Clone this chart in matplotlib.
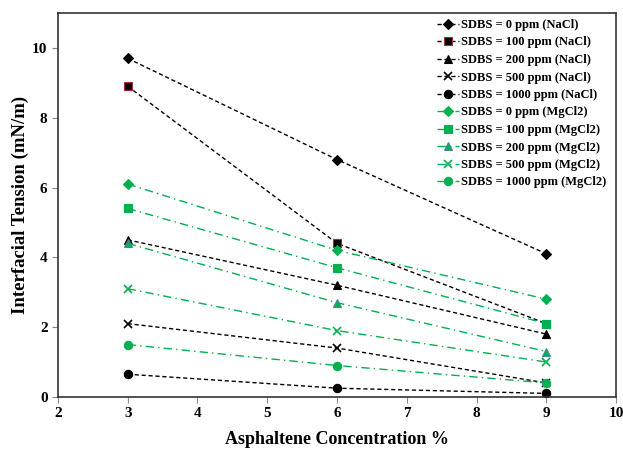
import matplotlib
matplotlib.use("Agg")
import matplotlib.pyplot as plt

x = [3, 6, 9]
labels = ["SDBS = 0 ppm (NaCl)", "SDBS = 100 ppm (NaCl)", "SDBS = 200 ppm (NaCl)",
          "SDBS = 500 ppm (NaCl)", "SDBS = 1000 ppm (NaCl)",
          "SDBS = 0 ppm (MgCl2)", "SDBS = 100 ppm (MgCl2)", "SDBS = 200 ppm (MgCl2)",
          "SDBS = 500 ppm (MgCl2)", "SDBS = 1000 ppm (MgCl2)"]
nacl_0 = [9.7, 6.8, 4.1]
nacl_100 = [8.9, 4.4, 2.1]
nacl_200 = [4.5, 3.2, 1.8]
nacl_500 = [2.1, 1.4, 0.4]
nacl_1000 = [0.65, 0.25, 0.1]
mg_0 = [6.1, 4.2, 2.8]
mg_100 = [5.4, 3.7, 2.1]
mg_200 = [4.4, 2.7, 1.3]
mg_500 = [3.1, 1.9, 1.0]
mg_1000 = [1.5, 0.9, 0.4]
series = [nacl_0, nacl_100, nacl_200, nacl_500, nacl_1000,
          mg_0, mg_100, mg_200, mg_500, mg_1000]

plt.rcParams['font.family'] = ['Liberation Serif', 'DejaVu Serif']
plt.rcParams['font.weight'] = 'bold'

fig = plt.figure(figsize=(6.23, 4.49), dpi=100)
ax = fig.add_axes([0.093, 0.116, 0.896, 0.855])

green = '#00B050'
markers = ['D', 's', '^', 'x', 'o', 'D', 's', '^', 'x', 'o']
for i, (vals, lab) in enumerate(zip(series, labels)):
    if i < 5:
        col = 'black'
        ls = (0, (3, 2))
        mec = '#A03030' if i == 1 else 'black'
    else:
        col = green
        ls = (0, (6, 3, 1, 3))
        mec = '#5080A0' if i == 7 else green
    ms = 5 if markers[i] == 'D' else 6
    ax.plot(x, vals, color=col, linestyle=ls, linewidth=1.0, marker=markers[i],
            markersize=ms, markerfacecolor=col, markeredgecolor=mec,
            markeredgewidth=1.2 if markers[i] == 'x' else 0.8, label=lab)

ax.set_xlim(2, 10)
ax.set_ylim(0, 11)
ax.set_xticks([2, 3, 4, 5, 6, 7, 8, 9, 10])
ax.set_yticks([0, 2, 4, 6, 8, 10])
ax.tick_params(labelsize=11, length=4, direction='out', width=0.8, color='#888888')
for lab in ax.get_xticklabels() + ax.get_yticklabels():
    lab.set_fontweight('bold')
for s in ax.spines.values():
    s.set_linewidth(1.2)
    s.set_color('#333333')

ax.set_xlabel('Asphaltene Concentration %', fontsize=13, fontweight='bold', labelpad=8)
ax.set_ylabel('Interfacial Tension (mN/m)', fontsize=13.5, fontweight='bold', labelpad=2)

leg = ax.legend(loc='upper left', bbox_to_anchor=(437 / 623, 1 - 19 / 449),
                bbox_transform=fig.transFigure,
                prop={'weight': 'bold', 'size': 9}, frameon=False,
                handlelength=1.75, handletextpad=0.15,
                labelspacing=0.44, borderaxespad=0.0, borderpad=0.0)

fig.savefig('out.png', dpi=100)
